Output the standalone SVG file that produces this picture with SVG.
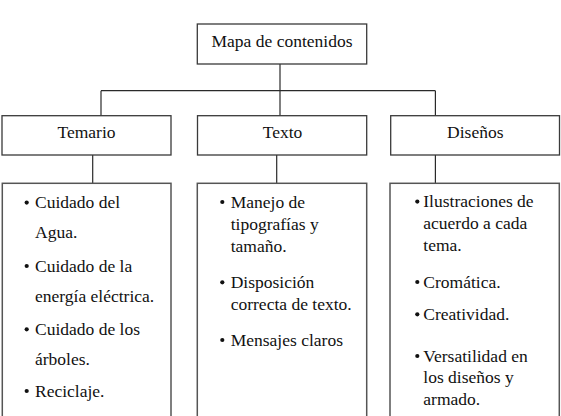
<svg xmlns="http://www.w3.org/2000/svg" width="561" height="416" viewBox="0 0 561 416">
  <style>
    .box { fill: #ffffff; stroke: #3a3a3a; stroke-width: 1.3; }
    .list { fill: #ffffff; stroke: #555555; stroke-width: 1.5; }
    .link { fill: none; stroke: #2a2a2a; stroke-width: 1.2; }
    .t { font-family: Tinos, "Times New Roman", Times, "Liberation Serif", "Noto Serif", "DejaVu Serif", serif; font-size: 17.5px; fill: #111111; }
    .c { text-anchor: middle; }
    .dot { fill: #111111; }
  </style>
  <rect width="561" height="416" fill="#ffffff"/>

  <!-- connectors -->
  <g id="connectors">
    <line class="link" x1="280" y1="64" x2="280" y2="90.7"/>
    <line class="link" x1="101" y1="90.7" x2="435.4" y2="90.7"/>
    <line class="link" x1="101" y1="90.7" x2="101" y2="115.7"/>
    <line class="link" x1="280" y1="90.7" x2="280" y2="115.7"/>
    <line class="link" x1="435.4" y1="90.7" x2="435.4" y2="115.7"/>
    <line class="link" x1="92.7" y1="155" x2="92.7" y2="183.3"/>
    <line class="link" x1="276.7" y1="155" x2="276.7" y2="183.3"/>
    <line class="link" x1="435.4" y1="155" x2="435.4" y2="183.3"/>
  </g>

  <!-- root -->
  <g id="mapa" class="t">
    <rect class="box" x="197.3" y="24" width="169.4" height="40"/>
    <text class="c" x="282" y="46.7">Mapa de contenidos</text>
  </g>

  <!-- second level -->
  <g id="temario" class="t">
    <rect class="box" x="2" y="115.7" width="169" height="39.3"/>
    <text class="c" x="86.5" y="138.3">Temario</text>
  </g>
  <g id="texto" class="t">
    <rect class="box" x="197.5" y="115.7" width="169.2" height="39.3"/>
    <text class="c" x="282.5" y="138.3">Texto</text>
  </g>
  <g id="disenos" class="t">
    <rect class="box" x="390.7" y="115.7" width="168.8" height="39.3"/>
    <text class="c" x="475.3" y="138.3">Diseños</text>
  </g>

  <!-- detail lists -->
  <g id="temario-lista" class="t">
    <rect class="list" x="2.3" y="183.3" width="168.7" height="240"/>
    <circle class="dot" cx="26.7" cy="202.6" r="2.1"/>
    <text x="35" y="208.3">Cuidado del</text>
    <text x="35" y="238.3">Agua.</text>
    <circle class="dot" cx="26.7" cy="266" r="2.1"/>
    <text x="35" y="271.7">Cuidado de la</text>
    <text x="35" y="301.7">energía eléctrica.</text>
    <circle class="dot" cx="26.7" cy="329.3" r="2.1"/>
    <text x="35" y="335">Cuidado de los</text>
    <text x="35" y="365">árboles.</text>
    <circle class="dot" cx="26.7" cy="391" r="2.1"/>
    <text x="35" y="396.7">Reciclaje.</text>
  </g>

  <g id="texto-lista" class="t">
    <rect class="list" x="197.3" y="183.3" width="169.4" height="240"/>
    <circle class="dot" cx="222.3" cy="202" r="2.1"/>
    <text x="230.7" y="207.7">Manejo de</text>
    <text x="230.7" y="230">tipografías y</text>
    <text x="230.7" y="251.7">tamaño.</text>
    <circle class="dot" cx="222.3" cy="282.3" r="2.1"/>
    <text x="230.7" y="288">Disposición</text>
    <text x="230.7" y="310">correcta de texto.</text>
    <circle class="dot" cx="222.3" cy="340" r="2.1"/>
    <text x="230.7" y="345.7">Mensajes claros</text>
  </g>

  <g id="disenos-lista" class="t">
    <rect class="list" x="390" y="183.3" width="169.3" height="240"/>
    <circle class="dot" cx="417.3" cy="201.6" r="2.1"/>
    <text x="423.3" y="207.3">Ilustraciones de</text>
    <text x="423.3" y="229.3">acuerdo a cada</text>
    <text x="423.3" y="251">tema.</text>
    <circle class="dot" cx="417.3" cy="282" r="2.1"/>
    <text x="423.3" y="287.7">Cromática.</text>
    <circle class="dot" cx="417.3" cy="314.3" r="2.1"/>
    <text x="423.3" y="320">Creatividad.</text>
    <circle class="dot" cx="417.3" cy="356" r="2.1"/>
    <text x="423.3" y="361.7">Versatilidad en</text>
    <text x="423.3" y="383.3">los diseños y</text>
    <text x="423.3" y="405">armado.</text>
  </g>
</svg>
